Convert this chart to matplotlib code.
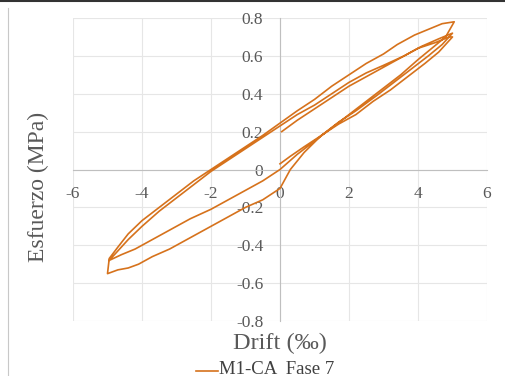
import matplotlib
matplotlib.use("Agg")
import matplotlib.pyplot as plt
from matplotlib.lines import Line2D
from matplotlib.ticker import FixedLocator, FuncFormatter

plt.rcParams['font.family'] = ['Liberation Serif', 'DejaVu Serif']

# hysteresis path: drift (per mille) and stress (MPa)
drift = [0.0, 0.3, 0.7, 1.2, 1.7, 2.2, 2.8, 3.3, 3.8, 4.3, 4.7, 5.0,          # first loading
         4.6, 4.1, 3.6, 3.0, 2.5, 2.0, 1.5, 1.0, 0.5, 0.0, -0.5, -1.0, -1.5,
         -2.0, -2.5, -3.0, -3.5, -4.0, -4.4, -4.7, -4.95,                     # unloading 1
         -4.6, -4.2, -3.7, -3.2, -2.6, -2.0, -1.5, -1.0, -0.5, 0.0, 0.5, 1.0,
         1.5, 2.0, 2.5, 3.0, 3.5, 4.0, 4.4, 4.8, 5.05,                        # reloading 2
         4.7, 4.3, 3.9, 3.4, 3.0, 2.5, 2.0, 1.5, 1.0, 0.5, 0.0, -0.5, -1.0,
         -1.5, -2.0, -2.5, -3.0, -3.5, -4.0, -4.4, -4.7, -4.95, -5.0,          # unloading 2
         -4.7, -4.4, -4.1, -3.7, -3.2, -2.7, -2.2, -1.6, -1.0, -0.5, 0.0, 0.3,
         0.7, 1.2, 1.7, 2.2, 2.7, 3.2, 3.7, 4.2, 4.6, 5.0,                    # reloading 3
         4.9, 4.5, 4.0, 3.5, 3.0, 2.5, 2.0, 1.5, 1.0, 0.5, 0.05]              # last unloading
stress = [0.03, 0.07, 0.12, 0.18, 0.25, 0.31, 0.39, 0.46, 0.53, 0.60, 0.66, 0.72,
          0.69, 0.65, 0.60, 0.55, 0.51, 0.46, 0.40, 0.34, 0.29, 0.23, 0.17, 0.11, 0.05,
          -0.01, -0.08, -0.15, -0.22, -0.30, -0.37, -0.43, -0.48,
          -0.45, -0.42, -0.37, -0.32, -0.26, -0.21, -0.16, -0.11, -0.06, 0.00, 0.08, 0.15,
          0.22, 0.29, 0.36, 0.43, 0.50, 0.58, 0.64, 0.70, 0.78,
          0.77, 0.74, 0.71, 0.66, 0.61, 0.56, 0.50, 0.44, 0.37, 0.31, 0.245, 0.18, 0.12,
          0.06, 0.00, -0.06, -0.13, -0.20, -0.27, -0.34, -0.41, -0.47, -0.55,
          -0.53, -0.52, -0.50, -0.46, -0.42, -0.37, -0.32, -0.26, -0.20, -0.16, -0.10, 0.00,
          0.09, 0.18, 0.24, 0.29, 0.36, 0.42, 0.49, 0.56, 0.62, 0.70,
          0.70, 0.67, 0.64, 0.59, 0.54, 0.49, 0.44, 0.38, 0.32, 0.26, 0.20]

x_ticks = [-6, -4, -2, 0, 2, 4, 6]
y_ticks = [-0.8, -0.6, -0.4, -0.2, 0, 0.2, 0.4, 0.6, 0.8]
series_name = "M1-CA  Fase 7"
line_color = '#D6721C'
text_color = '#595959'

fig = plt.figure(figsize=(5.05, 3.76), dpi=100)
ax = fig.add_axes([73/505, 55/376, 414/505, 303/376])

ax.plot(drift, stress, color=line_color, linewidth=1.2, zorder=3)

ax.set_xlim(-6, 6)
ax.set_ylim(-0.8, 0.8)
ax.xaxis.set_major_locator(FixedLocator(x_ticks))
ax.yaxis.set_major_locator(FixedLocator(y_ticks))
fmt = lambda v, p: ('%g' % round(v, 1)).replace('\u2212', '-')
ax.xaxis.set_major_formatter(FuncFormatter(fmt))
ax.yaxis.set_major_formatter(FuncFormatter(fmt))
ax.grid(True, color='#E6E6E6', linewidth=0.8, zorder=0)

for side in ['top', 'right']:
    ax.spines[side].set_visible(False)
ax.spines['left'].set_position('zero')
ax.spines['bottom'].set_position('zero')
for side in ['left', 'bottom']:
    ax.spines[side].set_color('#BFBFBF')
    ax.spines[side].set_linewidth(0.8)
ax.tick_params(length=0, labelsize=12.5, labelcolor=text_color)
ax.tick_params(axis='x', pad=12)
ax.tick_params(axis='y', pad=12)

fig.text(38/505, 1 - 187/376, "Esfuerzo (MPa)", rotation=90, fontsize=17,
         color=text_color, ha='center', va='center')
fig.text(280/505, 1 - 343/376, "Drift (\u2030)", fontsize=17.5,
         color=text_color, ha='center', va='center')

# legend
fig.add_artist(Line2D([196/505, 218/505], [1 - 371/376, 1 - 371/376],
                      color=line_color, linewidth=1.2))
fig.text(219/505, 1 - 369/376, series_name, fontsize=13.5, color='#404040',
         ha='left', va='center')

# frame edges of the screenshot
fig.add_artist(Line2D([0, 1], [1 - 1/376, 1 - 1/376], color='#333333', linewidth=1.5))
fig.add_artist(Line2D([8/505, 8/505], [0, 1 - 8/376], color='#C8C8C8', linewidth=0.8))

fig.savefig('out.png', dpi=100)
